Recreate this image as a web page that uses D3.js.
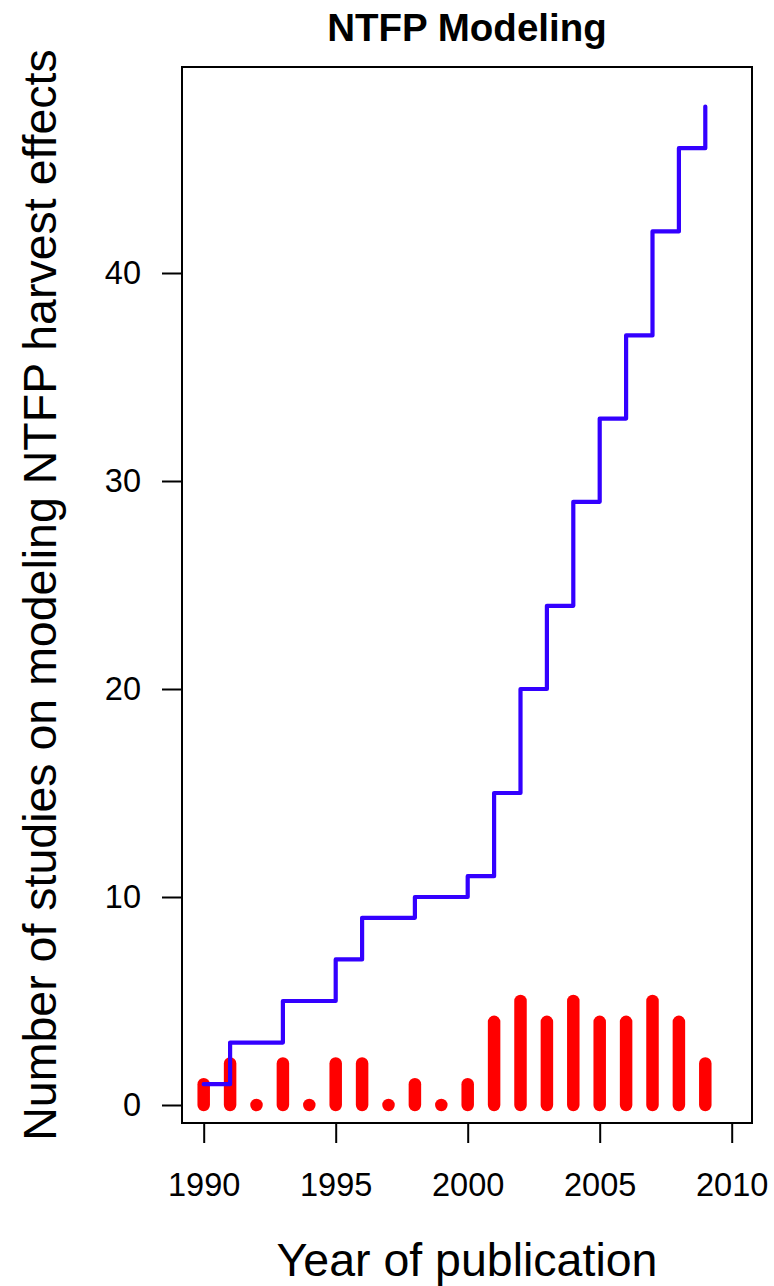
<!DOCTYPE html>
<html>
<head>
<meta charset="utf-8">
<script src="https://cdn.jsdelivr.net/npm/d3@7"></script>
<style>
  html, body { margin: 0; padding: 0; background: #fff; }
  svg { display: block; font-family: "Liberation Sans", Arial, Helvetica, sans-serif; }
</style>
</head>
<body>
<svg id="chart" width="774" height="1286"></svg>
<script>
// ---- data ----
const years = [1990,1991,1992,1993,1994,1995,1996,1997,1998,1999,2000,2001,2002,2003,2004,2005,2006,2007,2008,2009];
const counts = [1,2,0,2,0,2,2,0,1,0,1,4,5,4,5,4,4,5,4,2];
const cumulative = [1,3,3,5,5,7,9,9,10,10,11,15,20,24,29,33,37,42,46,48];
const xTicks = [1990,1995,2000,2005,2010];
const yTicks = [0,10,20,30,40];
const title = "NTFP Modeling";
const xLabel = "Year of publication";
const yLabel = "Number of studies on modeling NTFP harvest effects";

// ---- layout ----
const box = {left: 182, right: 752, top: 67, bottom: 1123};
const svg = d3.select("#chart");

const x = d3.scaleLinear().domain([1990, 2010]).range([203.7, 731.7]);
const y = d3.scaleLinear().domain([0, 40]).range([1105, 273]);

// red bars (type "h")
svg.append("g").selectAll("line").data(years).join("line")
  .attr("x1", (d) => x(d)).attr("x2", (d) => x(d))
  .attr("y1", y(0)).attr("y2", (d, i) => y(counts[i]))
  .attr("stroke", "#ff0000").attr("stroke-width", 12.5)
  .attr("stroke-linecap", "round");

// blue cumulative step line (R type "s": horizontal then vertical)
const pts = years.map((d, i) => [d, cumulative[i]]);
const stepPts = [];
pts.forEach((p, i) => {
  if (i === 0) { stepPts.push(p); }
  else { stepPts.push([p[0], pts[i-1][1]]); stepPts.push(p); }
});
svg.append("path")
  .attr("d", d3.line().x((d) => x(d[0])).y((d) => y(d[1]))(stepPts))
  .attr("fill", "none").attr("stroke", "#3300ff").attr("stroke-width", 4.2)
  .attr("stroke-linejoin", "round").attr("stroke-linecap", "round");

// box
svg.append("rect")
  .attr("x", box.left).attr("y", box.top)
  .attr("width", box.right - box.left).attr("height", box.bottom - box.top)
  .attr("fill", "none").attr("stroke", "#000").attr("stroke-width", 2);

// x axis
const xAxis = d3.axisBottom(x).tickValues(xTicks).tickSize(20).tickPadding(30).tickFormat(d3.format("d"));
const gx = svg.append("g").attr("transform", `translate(0,${box.bottom})`).call(xAxis);
gx.select(".domain").attr("stroke-width", 2).attr("d", `M${x(1990)},0H${x(2010)}`);
gx.selectAll(".tick line").attr("stroke-width", 2);
gx.selectAll(".tick text").attr("font-size", 32.5).attr("fill", "#000")
  .attr("font-family", "Liberation Sans, Arial, sans-serif").attr("dy", "0.71em");

// y axis
const yAxis = d3.axisLeft(y).tickValues(yTicks).tickSize(20).tickPadding(21);
const gy = svg.append("g").attr("transform", `translate(${box.left},0)`).call(yAxis);
gy.select(".domain").attr("stroke-width", 2).attr("d", `M0,${y(0)}V${y(40)}`);
gy.selectAll(".tick line").attr("stroke-width", 2);
gy.selectAll(".tick text").attr("font-size", 32.5).attr("fill", "#000")
  .attr("font-family", "Liberation Sans, Arial, sans-serif");

// title
svg.append("text").attr("x", (box.left + box.right) / 2).attr("y", 41)
  .attr("text-anchor", "middle").attr("font-size", 38.5).attr("font-weight", "bold")
  .text(title);

// x label
svg.append("text").attr("x", (box.left + box.right) / 2).attr("y", 1276)
  .attr("text-anchor", "middle").attr("font-size", 46.5).text(xLabel);

// y label
svg.append("text")
  .attr("transform", `translate(56,${(box.top + box.bottom) / 2}) rotate(-90)`)
  .attr("text-anchor", "middle").attr("font-size", 46.5).text(yLabel);
</script>
</body>
</html>
